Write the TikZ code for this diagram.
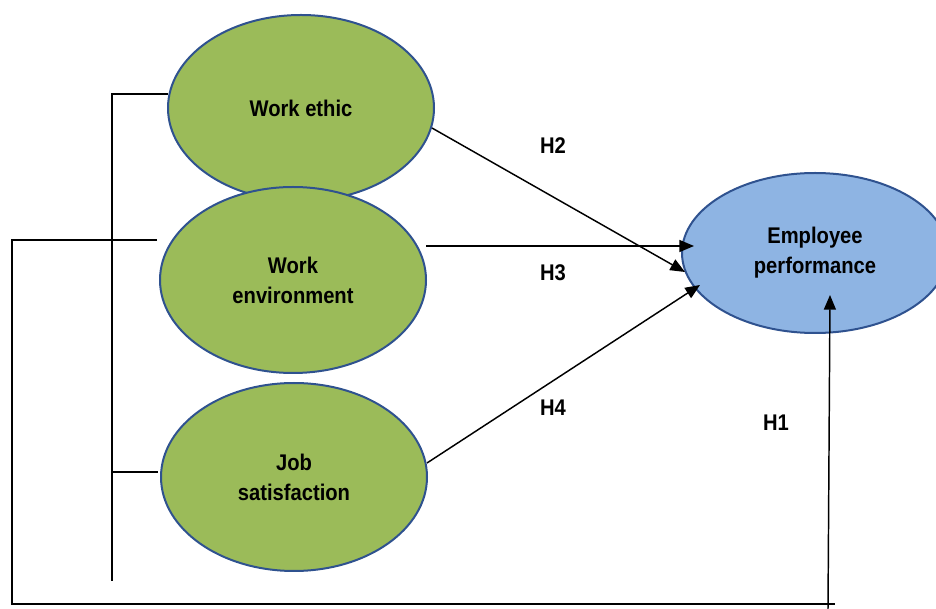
\documentclass[tikz,border=0pt]{standalone}
\usepackage{fontspec}
\setmainfont{Liberation Sans}[FakeStretch=0.89]
\usetikzlibrary{shapes.geometric,arrows.meta}
\definecolor{greenfill}{HTML}{9BBB59}
\definecolor{bluefill}{HTML}{8EB4E3}
\definecolor{edgeblue}{HTML}{2F528F}
\tikzset{
  varbox/.style={ellipse, draw=edgeblue, line width=1.5pt, fill=greenfill, inner sep=0pt,
     minimum width=199.5pt, minimum height=139.5pt, align=center,
     font=\fontsize{17}{22.5}\selectfont\bfseries},
  perfbox/.style={varbox, fill=bluefill, minimum height=120pt},
  hyp/.style={font=\fontsize{17}{20}\selectfont\bfseries},
  conn/.style={draw=black, line width=1.1pt, -{Triangle[length=11pt,width=9pt]}},
  brace/.style={draw=black, line width=1.5pt},
  frame/.style={draw=black, line width=1pt}
}
\begin{document}
\begin{tikzpicture}[x=0.75pt,y=-0.75pt]
\useasboundingbox (0,0) rectangle (936,609);
% ellipses
\node[varbox] (we) at (301,108) {Work ethic};
\node[varbox] (env) at (293,280) {Work\\environment};
\node[varbox, minimum height=141pt] (js) at (294,477) {Job\\satisfaction};
\node[perfbox] (ep) at (815,253) {Employee\\performance};
% named coordinates
\coordinate (h2s) at (432,128);
\coordinate (h2e) at (685,272);
\coordinate (h3s) at (426,246);
\coordinate (h3e) at (694,246);
\coordinate (h4s) at (427,463);
\coordinate (h4e) at (700,285);
\coordinate (bt) at (112,94);
\coordinate (bwe) at (168,94);
\coordinate (bb) at (112,581);
\coordinate (bj) at (112,472);
\coordinate (bje) at (158,472);
\coordinate (fs) at (157,240);
\coordinate (fl) at (12,240);
\coordinate (fbl) at (12,604);
\coordinate (fbr) at (835,604);
\coordinate (h1s) at (828,609);
\coordinate (h1e) at (830,295);
% arrows
\draw[conn] (h2s) -- (h2e);
\draw[conn] (h3s) -- (h3e);
\draw[conn] (h4s) -- (h4e);
\draw[conn] (h1s) -- (h1e);
% bracket
\draw[brace] (bwe) -- (bt) -- (bb);
\draw[brace] (bj) -- (bje);
% frame
\draw[frame] (fs) -- (fl) -- (fbl) -- (fbr);
% labels
\node[hyp] (lh2) at (553,146) {H2};
\node[hyp] (lh3) at (553,273) {H3};
\node[hyp] (lh4) at (553,408) {H4};
\node[hyp] (lh1) at (776,423) {H1};
\end{tikzpicture}
\end{document}
